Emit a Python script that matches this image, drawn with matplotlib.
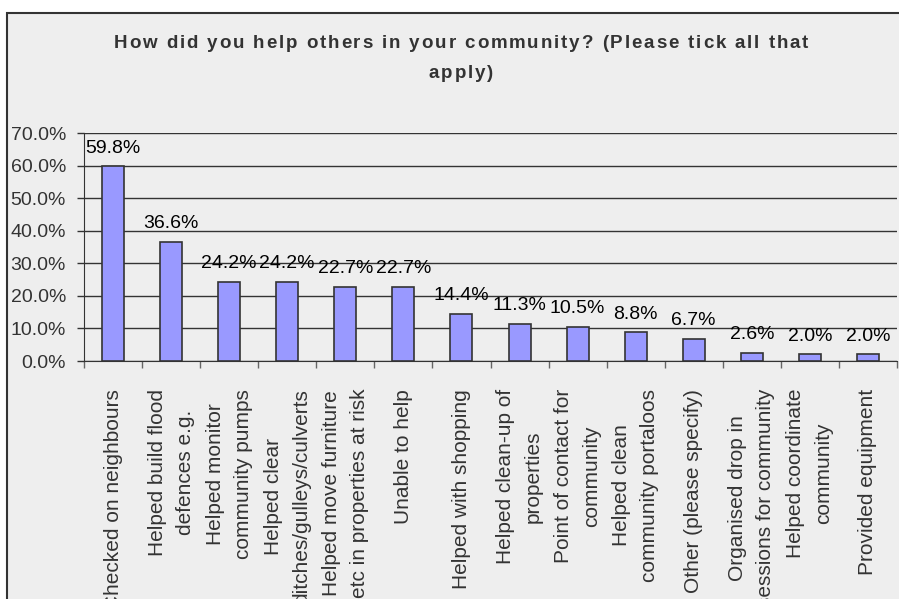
import matplotlib.pyplot as plt
from matplotlib.patches import Rectangle
from matplotlib.ticker import FuncFormatter

plt.rcParams['font.family'] = ['Liberation Sans', 'DejaVu Sans']

title_lines = ['How did you help others in your community? (Please tick all that', 'apply)']

categories = [
    'Checked on neighbours',
    'Helped build flood\ndefences e.g.',
    'Helped monitor\ncommunity pumps',
    'Helped clear\nditches/gulleys/culverts',
    'Helped move furniture\netc in properties at risk',
    'Unable to help',
    'Helped with shopping',
    'Helped clean-up of\nproperties',
    'Point of contact for\ncommunity',
    'Helped clean\ncommunity portaloos',
    'Other (please specify)',
    'Organised drop in\nsessions for community',
    'Helped coordinate\ncommunity',
    'Provided equipment',
]
percent = [59.8, 36.6, 24.2, 24.2, 22.7, 22.7, 14.4, 11.3, 10.5, 8.8, 6.7, 2.6, 2.0, 2.0]

W, H = 899, 599
fig = plt.figure(figsize=(W / 100, H / 100), dpi=100, facecolor='white')

# grey chart area with a dark frame, running off the right and bottom edges
fig.patches.append(Rectangle((7 / W, -0.1), 1.2, (H - 13) / H + 0.1,
                             transform=fig.transFigure, facecolor='#eeeeee',
                             edgecolor='#333333', linewidth=1.5, zorder=-10))

ax = fig.add_axes([84 / W, (H - 361) / H, (897 - 84) / W, (361 - 133) / H])
ax.set_facecolor('none')

x = list(range(len(categories)))
ax.bar(x, percent, width=0.38, color='#9999ff', edgecolor='#333333',
       linewidth=1.2, zorder=3)

for i, v in zip(x, percent):
    ax.annotate(f'{v:.1f}%', xy=(i, v), xytext=(0, 7), textcoords='offset points',
                ha='center', va='bottom', fontsize=14, color='black', zorder=4)

ax.set_xlim(-0.5, len(categories) - 0.5)
ax.set_ylim(0, 70)
ax.set_yticks(range(0, 71, 10))
ax.yaxis.set_major_formatter(FuncFormatter(lambda v, p: f'{v:.1f}%'))
ax.grid(axis='y', color='#333333', linewidth=1.0, zorder=1)
ax.set_axisbelow(True)

ax.set_xticks(x)
ax.set_xticklabels(categories, rotation=90, ha='center', va='top',
                   multialignment='center', fontsize=15, color='#333333',
                   linespacing=1.6)
ax.set_xticks([i + 0.5 for i in x[:-1]] + [-0.5, len(categories) - 0.5], minor=True)
ax.tick_params(axis='x', which='major', length=0, pad=20)
ax.tick_params(axis='x', which='minor', length=5, width=1, color='#666666')
ax.tick_params(axis='y', length=5, width=1, color='#333333', labelsize=14,
               labelcolor='#333333', pad=8)

for side in ('top', 'right'):
    ax.spines[side].set_visible(False)
ax.spines['left'].set_color('#333333')
ax.spines['bottom'].set_color('#333333')

# letter-spaced bold title, laid out one character at a time
renderer = fig.canvas.get_renderer()
title_style = dict(fontsize=13.5, fontweight='bold', color='#333333')
gap = 1.9
probe = fig.text(0, 0, '|', **title_style)
bar_w = probe.get_window_extent(renderer).width


def text_width(s):
    probe.set_text(s + '|')
    return probe.get_window_extent(renderer).width - bar_w


for row, line in enumerate(title_lines):
    total = text_width(line) + gap * (len(line) - 1)
    x0 = 461 - total / 2
    y = H - (42 + 30 * row)
    for k, ch in enumerate(line):
        if ch == ' ':
            continue
        xk = x0 + text_width(line[:k]) + gap * k
        fig.text(xk / W, y / H, ch, ha='left', va='center_baseline', **title_style)
probe.remove()

fig.savefig('out.png', dpi=100)
